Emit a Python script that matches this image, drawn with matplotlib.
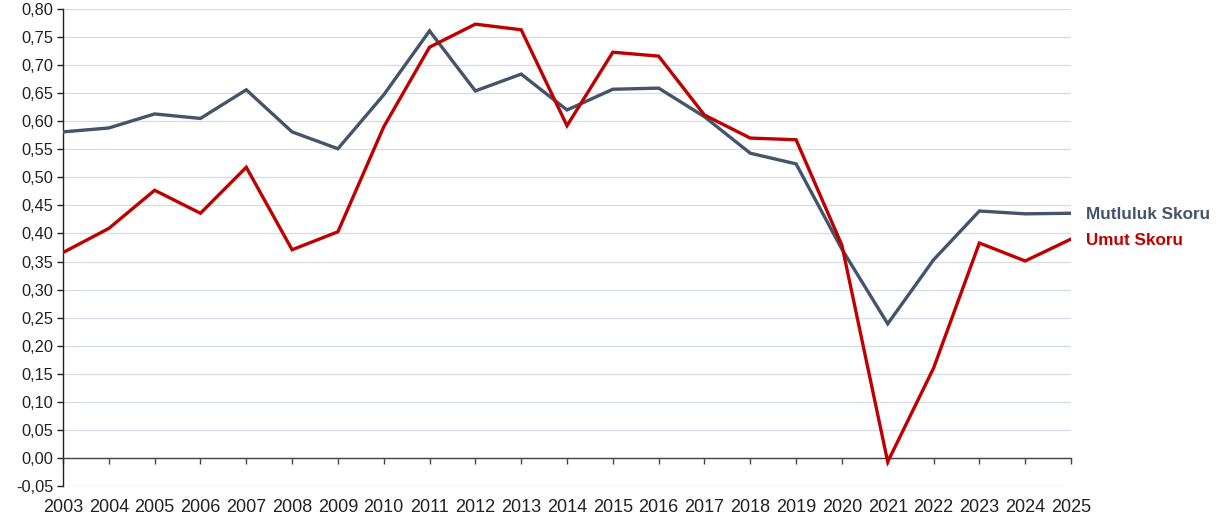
import matplotlib.pyplot as plt
from matplotlib.ticker import FuncFormatter, MultipleLocator

plt.rcParams['font.family'] = ['Liberation Sans', 'DejaVu Sans']

years = list(range(2003, 2026))
mutluluk = [0.581, 0.588, 0.613, 0.605, 0.656, 0.581, 0.551, 0.647, 0.761, 0.654,
            0.684, 0.620, 0.657, 0.659, 0.608, 0.543, 0.524, 0.372, 0.239, 0.353,
            0.440, 0.435, 0.436]
umut = [0.366, 0.409, 0.477, 0.436, 0.518, 0.371, 0.403, 0.590, 0.732, 0.773,
        0.763, 0.592, 0.723, 0.716, 0.611, 0.570, 0.567, 0.379, -0.007, 0.160,
        0.383, 0.351, 0.390]

blue = '#44546A'
red = '#C00000'

fig = plt.figure(figsize=(12.17, 5.19), dpi=100)
ax = fig.add_axes([63 / 1217, 1 - 486 / 519, (1071 - 63) / 1217, (486 - 9) / 519])

ax.plot(years, mutluluk, color=blue, lw=2.4, solid_joinstyle='miter', zorder=3)
ax.plot(years, umut, color=red, lw=2.4, solid_joinstyle='miter', zorder=4)

ax.set_xlim(2003, 2025)
ax.set_ylim(-0.05, 0.80)
ax.yaxis.set_major_locator(MultipleLocator(0.05))
ax.yaxis.set_major_formatter(FuncFormatter(lambda v, p: f"{v:.2f}".replace('.', ',')))
ax.grid(axis='y', color='#D6DCE5', lw=0.9, zorder=0)
ax.set_axisbelow(True)

for s in ['top', 'right']:
    ax.spines[s].set_visible(False)
ax.spines['left'].set_color('#222222')
ax.spines['left'].set_linewidth(1.0)
ax.spines['bottom'].set_position(('data', 0))
ax.spines['bottom'].set_color('#444444')
ax.spines['bottom'].set_linewidth(1.0)

ax.set_xticks(years)
ax.tick_params(axis='x', direction='out', length=4, width=1, color='#444444', labelbottom=False)
ax.tick_params(axis='y', direction='out', length=4, width=1, color='#222222',
               labelsize=11.8, labelcolor='#222222', pad=3)

# year labels sit under the bottom of the plot, not under the zero line
secax = ax.secondary_xaxis(0)
secax.set_xticks(years)
secax.set_xticklabels([str(y) for y in years])
secax.tick_params(length=0, labelsize=13, labelcolor='#222222', pad=9)
secax.spines['bottom'].set_visible(False)

ax.annotate('Mutluluk Skoru', xy=(years[-1], mutluluk[-1]), xytext=(11, -1),
            textcoords='offset points', color=blue, fontsize=12.3, fontweight='bold',
            va='center', ha='left', annotation_clip=False)
ax.annotate('Umut Skoru', xy=(years[-1], umut[-1]), xytext=(11, -1),
            textcoords='offset points', color=red, fontsize=12.3, fontweight='bold',
            va='center', ha='left', annotation_clip=False)

fig.savefig('out.png', dpi=100)
